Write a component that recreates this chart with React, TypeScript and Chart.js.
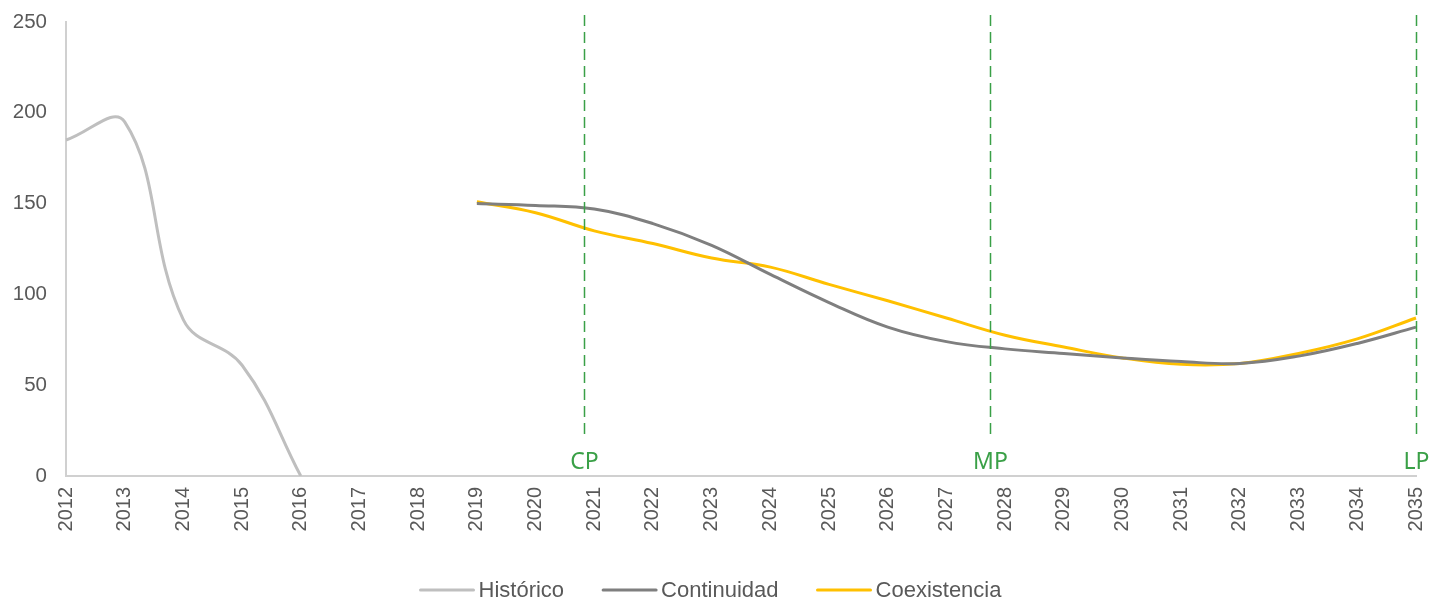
import React, { useEffect, useRef } from "react";
import { Chart, registerables } from "chart.js";

Chart.register(...registerables);

const years = [
  "2012", "2013", "2014", "2015", "2016", "2017", "2018", "2019", "2020", "2021", "2022", "2023",
  "2024", "2025", "2026", "2027", "2028", "2029", "2030", "2031", "2032", "2033", "2034", "2035",
];

const historico = [185, 195, 86, 61, 0, null, null, null, null, null, null, null, null, null, null, null, null, null, null, null, null, null, null, null];
const continuidad = [null, null, null, null, null, null, null, 150, 149, 147, 139, 127, 111, 95.5, 82, 74, 70, 67.5, 65, 63, 62, 66, 73, 82];
const coexistencia = [null, null, null, null, null, null, null, 151, 145, 135, 128, 120, 115, 105.5, 96.5, 87, 77.5, 71, 65, 61.5, 62, 67.5, 75.5, 87];

const markerLabels = ["CP", "MP", "LP"];
const markerPositions = [8.83, 15.74, 23];

const seriesNames = ["Histórico", "Continuidad", "Coexistencia"];
const seriesColors = ["#bfbfbf", "#7f7f7f", "#ffc000"];

const markerPlugin = {
  id: "markers",
  afterDatasetsDraw(chart: any) {
    const ctx = chart.ctx;
    const xs = chart.scales.x;
    ctx.save();
    markerPositions.forEach((pos, i) => {
      const x = Math.round(xs.getPixelForValue(pos)) + 0.5;
      ctx.strokeStyle = "#3aa047";
      ctx.lineWidth = 1.5;
      ctx.setLineDash([11, 6]);
      ctx.beginPath();
      ctx.moveTo(x, 15);
      ctx.lineTo(x, 434);
      ctx.stroke();
      ctx.setLineDash([]);
      ctx.fillStyle = "#3aa047";
      ctx.font = "23px 'Noto Sans'";
      ctx.textAlign = "center";
      ctx.textBaseline = "middle";
      ctx.fillText(markerLabels[i], x, 462);
    });
    ctx.restore();
  },
};

const legendPlugin = {
  id: "customLegend",
  afterDraw(chart: any) {
    const ctx = chart.ctx;
    ctx.save();
    ctx.font = "22px 'Liberation Sans', Arial";
    const lineW = 55;
    const gap = 4;
    const itemGap = 38;
    const widths = seriesNames.map((n) => ctx.measureText(n).width);
    const total = widths.reduce((a, w) => a + lineW + gap + w, 0) + itemGap * (seriesNames.length - 1);
    let x = chart.width / 2 - total / 2 - 4;
    const y = 591;
    seriesNames.forEach((n, i) => {
      ctx.strokeStyle = seriesColors[i];
      ctx.lineWidth = 3;
      ctx.lineCap = "round";
      ctx.beginPath();
      ctx.moveTo(x + 1, y - 1);
      ctx.lineTo(x + lineW - 1, y - 1);
      ctx.stroke();
      ctx.fillStyle = "#595959";
      ctx.textAlign = "left";
      ctx.textBaseline = "middle";
      ctx.fillText(n, x + lineW + gap, y);
      x += lineW + gap + widths[i] + itemGap;
    });
    ctx.restore();
  },
};

export default function App() {
  const ref = useRef<HTMLCanvasElement>(null);
  useEffect(() => {
    document.body.style.margin = "0";
    const chart = new Chart(ref.current!, {
      type: "line",
      data: {
        labels: years,
        datasets: [
          { label: seriesNames[0], data: historico, borderColor: seriesColors[0], backgroundColor: seriesColors[0], borderWidth: 3, pointRadius: 0, tension: 0.4 },
          { label: seriesNames[1], data: continuidad, borderColor: seriesColors[1], backgroundColor: seriesColors[1], borderWidth: 3, pointRadius: 0, tension: 0.4 },
          { label: seriesNames[2], data: coexistencia, borderColor: seriesColors[2], backgroundColor: seriesColors[2], borderWidth: 3, pointRadius: 0, tension: 0.4 },
        ],
      },
      options: {
        animation: false,
        responsive: false,
        spanGaps: false,
        layout: { padding: { top: 22, left: 0, right: 13, bottom: 0 } },
        scales: {
          x: {
            grid: { display: false, drawTicks: false },
            border: { color: "#d0d0d0", width: 2 },
            ticks: { color: "#595959", font: { size: 20, family: "'Liberation Sans', Arial" }, minRotation: 90, maxRotation: 90, padding: 11, autoSkip: false },
            afterFit: (s: any) => { s.height = 127; s.paddingLeft = 0; s.paddingRight = 0; s.paddingTop = 0; s.paddingBottom = 0; },
          },
          y: {
            min: 0,
            max: 250,
            grid: { display: false, drawTicks: false },
            border: { color: "#d0d0d0", width: 2 },
            ticks: { stepSize: 50, color: "#595959", font: { size: 20.5, family: "'Liberation Sans', Arial" }, padding: 19 },
            afterFit: (s: any) => { s.width = 66; s.paddingLeft = 0; s.paddingRight = 0; s.paddingTop = 0; s.paddingBottom = 0; },
          },
        },
        plugins: {
          tooltip: { enabled: false },
          legend: { display: false },
        },
      },
      plugins: [markerPlugin, legendPlugin],
    });
    return () => chart.destroy();
  }, []);
  return (
    <div style={{ position: "absolute", left: 0, top: 0, width: 1429, height: 603 }}>
      <canvas ref={ref} width={1429} height={603} />
    </div>
  );
}
